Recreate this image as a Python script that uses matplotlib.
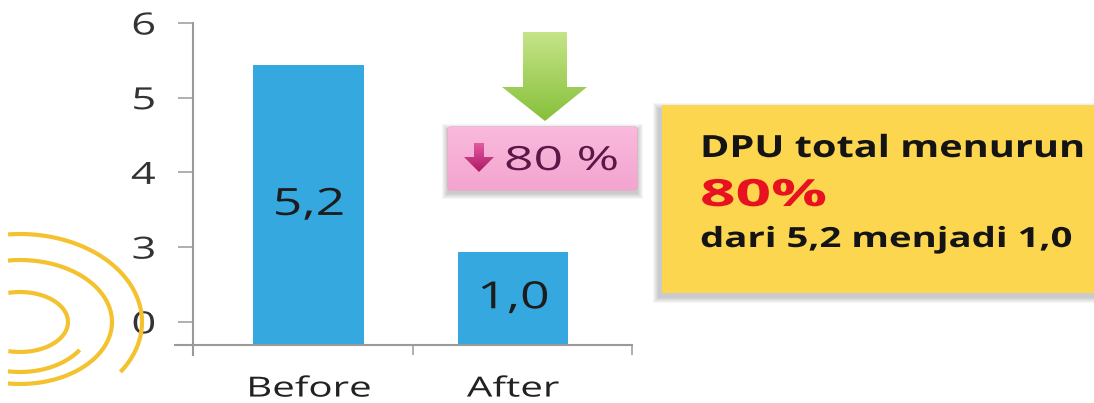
import numpy as np
import matplotlib
matplotlib.use("Agg")
import matplotlib.pyplot as plt
import matplotlib.colors as mcolors
from matplotlib.patches import Polygon, FancyBboxPatch, Rectangle
from matplotlib.patheffects import AbstractPathEffect
from matplotlib.transforms import Affine2D

plt.rcParams["font.family"] = ["Open Sans", "DejaVu Sans"]

categories = ["Before", "After"]
dpu = [5.2, 1.0]
ytick_values = [0, 3, 4, 5, 6]

# the value axis is broken: values map onto evenly spaced tick slots
axis_values = [-0.33, 0.0, 1.0, 3.0, 4.0, 5.0, 5.2, 6.0]
axis_slots = [-0.31, 0.0, 0.94, 1.0, 2.0, 3.0, 3.44, 4.0]


def to_slot(v):
    return np.interp(v, axis_values, axis_slots)


def from_slot(s):
    return np.interp(s, axis_slots, axis_values)


def fmt(v):
    return f"{v:.1f}".replace(".", ",")


class Stretch(AbstractPathEffect):
    """Widen glyphs horizontally, keeping the text's anchor point fixed."""

    def __init__(self, sx, anchor=0.0):
        super().__init__()
        self.sx = sx
        self.anchor = anchor

    def draw_path(self, renderer, gc, tpath, affine, rgbFace=None):
        w = tpath.get_extents().x1 if len(tpath.vertices) else 0.0
        shift = -(self.sx - 1) * self.anchor * w
        tr = Affine2D().scale(self.sx, 1).translate(shift, 0) + affine
        renderer.draw_path(gc, tpath, tr, rgbFace)


W, H = 1094, 403
fig = plt.figure(figsize=(W / 100, H / 100), dpi=100)

ax = fig.add_axes([193 / W, 58 / H, (632 - 193) / W, 322 / H])
ax.set_yscale("function", functions=(to_slot, from_slot))
floor = axis_values[0]
ax.set_ylim(floor, 6)
xlo, xhi = -0.565, 1.582
ax.set_xlim(xlo, xhi)

x = np.arange(len(categories))
heights = np.array(dpu) - floor
ax.bar(x, heights, bottom=floor, width=0.54, color="#35a8e0", zorder=2)

for xi, v in zip(x, dpu):
    mid = from_slot((to_slot(floor) + to_slot(v)) / 2)
    ax.text(xi, mid, fmt(v), ha="center", va="center", fontsize=27,
            color="#1c1c1c", zorder=3,
            path_effects=[Stretch(1.38, 0.5)])

for s in ax.spines.values():
    s.set_visible(False)
axis_grey = "#9a9a9a"
ax.plot([-0.041, 1.0], [0, 0], transform=ax.transAxes, clip_on=False,
        color=axis_grey, lw=1.5)
ax.plot([0, 0], [-0.031, 1.0], transform=ax.transAxes, clip_on=False,
        color=axis_grey, lw=1.5)

ax.set_yticks(ytick_values, labels=[str(t) for t in ytick_values])
ax.yaxis.set_minor_locator(matplotlib.ticker.NullLocator())
ax.tick_params(axis="y", length=11, width=1.1, color=axis_grey, pad=16,
               labelsize=22, labelcolor="#333333")
ax.set_xticks(x, labels=categories)
ax.set_xticks([xlo, (xlo + xhi) / 2, xhi], minor=True)
ax.tick_params(axis="x", which="major", length=0, pad=22, labelsize=20,
               labelcolor="#222222")
ax.tick_params(axis="x", which="minor", length=7.5, width=1.1,
               color=axis_grey)
for lab in ax.get_yticklabels():
    lab.set_path_effects([Stretch(1.42, 1.0)])
for lab in ax.get_xticklabels():
    lab.set_path_effects([Stretch(1.45, 0.5)])
ax.patch.set_visible(False)

# overlay in pixel coordinates for the decorations
ov = fig.add_axes([0, 0, 1, 1], zorder=3)
ov.axis("off")


def gradient_fill(verts, top, bottom, zorder=2, patch=None):
    if patch is None:
        patch = Polygon(verts, closed=True, facecolor="none", edgecolor="none")
    ov.add_patch(patch)
    xs, ys = zip(*verts)
    c0 = np.array(mcolors.to_rgb(top))
    c1 = np.array(mcolors.to_rgb(bottom))
    t = np.linspace(0, 1, 256)[:, None, None]
    img = c0 * (1 - t) + c1 * t
    im = ov.imshow(img, extent=(min(xs), max(xs), max(ys), min(ys)),
                   origin="upper", aspect="auto", zorder=zorder,
                   interpolation="bilinear")
    im.set_clip_path(patch)


def soft_shadow(x0, y0, w, h, dx, dy, steps=6):
    for i in range(steps):
        g = steps - i
        ov.add_patch(Rectangle((x0 + dx - g, y0 + dy - g), w + 2 * g, h + 2 * g,
                               facecolor="#000000", alpha=0.035,
                               edgecolor="none", zorder=1))


# yellow arcs at the lower left
arc_color = "#f3c22e"
cx, cy = 20, 322
arcs = [(48, 30, -104, 104), (72, 50, 34, 99.6),
        (92, 62, -97.5, 97.5), (122, 88, -95.6, 34.6)]
for rx, ry, t0, t1 in arcs:
    t = np.radians(np.linspace(t0, t1, 200))
    ov.plot(cx + rx * np.cos(t), cy + ry * np.sin(t), color=arc_color,
            lw=3, solid_capstyle="butt", zorder=4)

# green arrow
arrow = [(523, 32), (567, 32), (567, 87), (587, 87), (545, 121),
         (502, 87), (523, 87)]
gradient_fill(arrow, "#c6e489", "#86c03a")

# pink badge
soft_shadow(448, 127, 189, 63, 0, 3)
badge = FancyBboxPatch((448, 127), 189, 63,
                       boxstyle="round,pad=0,rounding_size=3",
                       facecolor="none", edgecolor="#eaa0c8", lw=0.8)
gradient_fill([(448, 127), (637, 190)], "#fab9dd", "#f3a5cf", patch=badge)
down = [(474, 143), (484, 143), (484, 157), (494, 157), (479, 172),
        (464, 157), (474, 157)]
gradient_fill(down, "#e25aa2", "#ad1862", zorder=3)
ov.text(504, 170, "80 %", fontsize=24, color="#5a1747", va="baseline",
        zorder=4, path_effects=[Stretch(1.55)])

# yellow summary box
drop = int((dpu[0] - dpu[1]) / dpu[0] * 100)
soft_shadow(662, 105, 440, 188, -3, 4)
ov.add_patch(Rectangle((662, 105), 440, 188, facecolor="#fdd650",
                       edgecolor="none", zorder=2))
ov.text(700, 157, "DPU total menurun", fontsize=22, fontweight="bold",
        color="#141414", va="baseline", zorder=4,
        path_effects=[Stretch(1.30)])
ov.text(700, 206, f"{drop}%", fontsize=27, fontweight="bold",
        color="#e8111f", va="baseline", zorder=4,
        path_effects=[Stretch(1.66)])
ov.text(700, 247, f"dari {fmt(dpu[0])} menjadi {fmt(dpu[1])}", fontsize=20,
        fontweight="bold", color="#141414", va="baseline", zorder=4,
        path_effects=[Stretch(1.38)])

ov.set_xlim(0, W)
ov.set_ylim(H, 0)

fig.savefig("out.png", dpi=100)
